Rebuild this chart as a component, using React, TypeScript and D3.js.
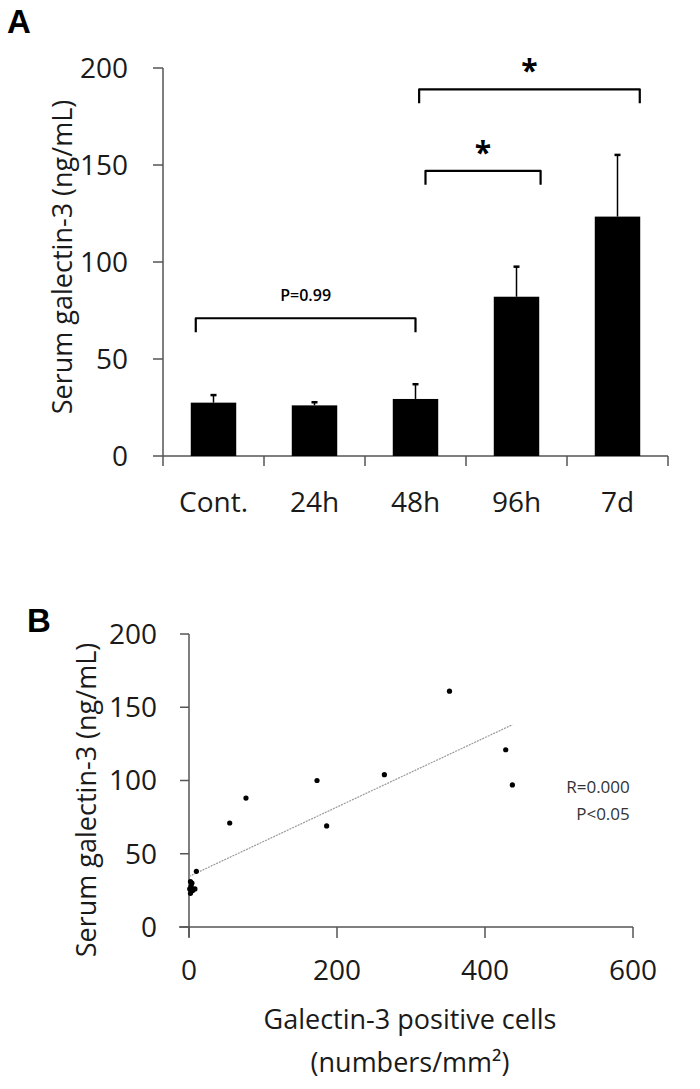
import * as d3 from "d3";

// Panel A: serum galectin-3 by time point
const groups = ["Cont.", "24h", "48h", "96h", "7d"];
const means = [27.5, 26.1, 29.4, 82.1, 123.4];
const errs = [3.9, 1.6, 7.6, 15.5, 31.8];
const yTicksA = [0, 50, 100, 150, 200];

// significance brackets: from/to group, fraction across the bar, level (ng/mL)
const brackets = [
  { from: "Cont.", fromAt: 0.11, to: "48h", toAt: 0.5, level: 71, label: "P=0.99" },
  { from: "48h", fromAt: 0.72, to: "96h", toAt: 1.03, level: 147, label: "*" },
  { from: "48h", fromAt: 0.58, to: "7d", toAt: 0.99, level: 189, label: "*" },
];

// Panel B: galectin-3 positive cells vs serum level
const cellsX = [55, 77, 173, 186, 264, 352, 428, 437, 10, 2, 3, 1, 5, 8, 2, 4];
const serumY = [71, 88, 100, 69, 104, 161, 121, 97, 38, 31, 28, 26, 25, 26, 23, 30];
const xTicksB = [0, 200, 400, 600];
const yTicksB = [0, 50, 100, 150, 200];
const trend = { intercept: 34.5, slope: 0.237, xEnd: 437 };
const statsText = ["R=0.000", "P<0.05"];

const font = "'Open Sans', 'Noto Sans', sans-serif";
const axisColor = "#555";

const App = () => {
  // ---- panel A scales
  const xA = d3.scaleBand().domain(groups).range([163, 668]).paddingInner(0.55).paddingOuter(0.275);
  const yA = d3.scaleLinear().domain([0, 200]).range([456, 68]);
  const step = xA.step();
  const bw = xA.bandwidth();
  const bounds = d3.range(groups.length + 1).map((i) => 163 + i * step);

  // ---- panel B scales
  const xB = d3.scaleLinear().domain([0, 600]).range([189, 633]);
  const yB = d3.scaleLinear().domain([0, 200]).range([927, 634]);

  return (
    <svg width={700} height={1089} style={{ position: "absolute", left: 0, top: 0, background: "#fff" }} fontFamily={font}>
      {/* ===== Panel A ===== */}
      <text x={7} y={33} fontSize={33} fontWeight={700} fontFamily="'Liberation Sans', Arial, sans-serif">A</text>

      <line x1={163} x2={163} y1={yA(200)} y2={yA(0)} stroke={axisColor} strokeWidth={1.5} />
      {yTicksA.map((t) => (
        <g key={t}>
          <line x1={153} x2={163} y1={yA(t)} y2={yA(t)} stroke={axisColor} strokeWidth={1.5} />
          <text x={128} y={yA(t)} dy="0.35em" textAnchor="end" fontSize={28} fill="#1a1a1a">{t}</text>
        </g>
      ))}
      <line x1={163} x2={668} y1={yA(0)} y2={yA(0)} stroke={axisColor} strokeWidth={1.5} />
      {bounds.map((b, i) => (
        <line key={i} x1={b} x2={b} y1={yA(0)} y2={yA(0) + 10} stroke={axisColor} strokeWidth={1.5} />
      ))}
      {groups.map((g) => (
        <text key={g} x={(xA(g) as number) + bw / 2} y={512} textAnchor="middle" fontSize={28} fill="#1a1a1a">{g}</text>
      ))}
      <text transform={`translate(72,257) rotate(-90)`} textAnchor="middle" fontSize={27} fill="#1a1a1a">Serum galectin-3 (ng/mL)</text>

      {groups.map((g, i) => {
        const cx = (xA(g) as number) + bw / 2;
        return (
          <g key={g}>
            <line x1={cx} x2={cx} y1={yA(means[i])} y2={yA(means[i] + errs[i])} stroke="#000" strokeWidth={1.5} />
            <line x1={cx - 3} x2={cx + 3} y1={yA(means[i] + errs[i])} y2={yA(means[i] + errs[i])} stroke="#000" strokeWidth={2.5} />
            <rect x={xA(g)} y={yA(means[i])} width={bw} height={yA(0) - yA(means[i])} fill="#000" />
          </g>
        );
      })}

      {brackets.map((b, i) => {
        const x1 = (xA(b.from) as number) + b.fromAt * bw;
        const x2 = (xA(b.to) as number) + b.toAt * bw;
        const y = yA(b.level);
        const star = b.label === "*";
        return (
          <g key={i}>
            <path d={`M${x1},${y + 14} V${y} H${x2} V${y + 14}`} fill="none" stroke="#000" strokeWidth={2.2} strokeLinejoin="round" />
            <text
              x={(x1 + x2) / 2}
              y={star ? y - 8 : y - 17}
              textAnchor="middle"
              fontSize={star ? 30 : 16}
              fontWeight={star ? 700 : 600}
              fill="#000"
            >
              {b.label}
            </text>
          </g>
        );
      })}

      {/* ===== Panel B ===== */}
      <text x={27} y={632} fontSize={33} fontWeight={700} fontFamily="'Liberation Sans', Arial, sans-serif">B</text>

      <line x1={xB(0)} x2={xB(0)} y1={yB(200)} y2={yB(0) + 10} stroke={axisColor} strokeWidth={1.5} />
      {yTicksB.map((t) => (
        <g key={t}>
          <line x1={xB(0) - 9} x2={xB(0)} y1={yB(t)} y2={yB(t)} stroke={axisColor} strokeWidth={1.5} />
          <text x={157} y={yB(t)} dy="0.35em" textAnchor="end" fontSize={28} fill="#1a1a1a">{t}</text>
        </g>
      ))}
      <line x1={xB(0) - 10} x2={xB(600)} y1={yB(0)} y2={yB(0)} stroke={axisColor} strokeWidth={1.5} />
      {xTicksB.map((t) => (
        <g key={t}>
          <line x1={xB(t)} x2={xB(t)} y1={yB(0)} y2={yB(0) + 11} stroke={axisColor} strokeWidth={1.5} />
          <text x={xB(t)} y={980} textAnchor="middle" fontSize={28} fill="#1a1a1a">{t}</text>
        </g>
      ))}
      <text transform={`translate(96,800) rotate(-90)`} textAnchor="middle" fontSize={27} fill="#1a1a1a">Serum galectin-3 (ng/mL)</text>
      <text x={410} y={1029} textAnchor="middle" fontSize={27} fill="#1a1a1a">Galectin-3 positive cells</text>
      <text x={410} y={1072} textAnchor="middle" fontSize={27} fill="#1a1a1a">(numbers/mm²)</text>

      <line
        x1={xB(0)}
        x2={xB(trend.xEnd)}
        y1={yB(trend.intercept)}
        y2={yB(trend.intercept + trend.slope * trend.xEnd)}
        stroke="#999"
        strokeWidth={1.2}
        strokeDasharray="2,1"
      />
      {cellsX.map((cx, i) => (
        <circle key={i} cx={xB(cx)} cy={yB(serumY[i])} r={2.6} fill="#000" />
      ))}
      {statsText.map((s, i) => (
        <text key={s} x={598 + i * 5} y={793 + i * 27} textAnchor="middle" fontSize={17} fill="#333">{s}</text>
      ))}
    </svg>
  );
};

export default App;
